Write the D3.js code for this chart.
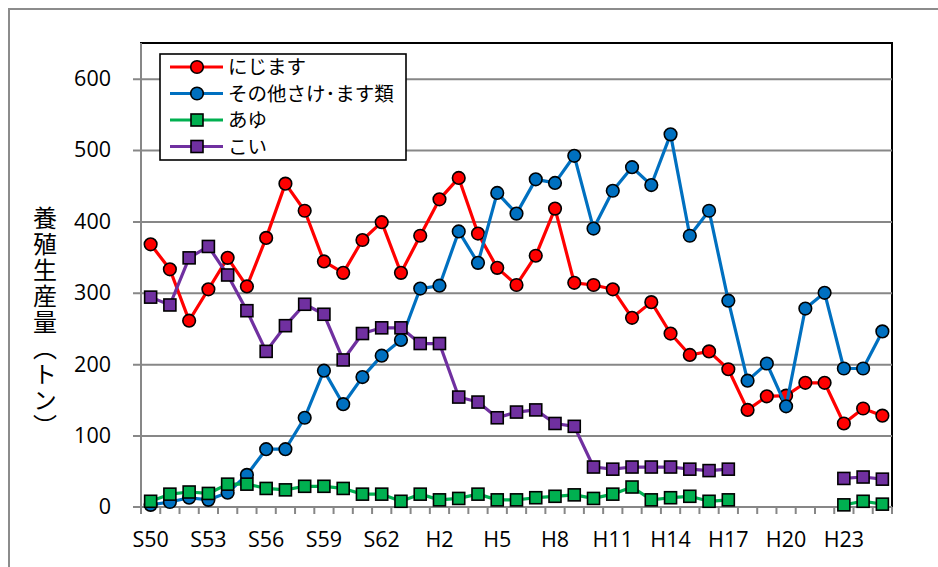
<!DOCTYPE html>
<html>
<head>
<meta charset="utf-8">
<script src="https://cdn.jsdelivr.net/npm/d3@7"></script>
<style>
  html, body { margin: 0; padding: 0; background: #fff; }
  svg { display: block; }
</style>
</head>
<body>
<div id="chart"></div>
<script>
// ─── DATA ─────────────────────────────────────────────────────────────────────

const years = [
  "S50","S51","S52","S53","S54","S55","S56","S57","S58","S59","S60","S61","S62","S63",
  "H1","H2","H3","H4","H5","H6","H7","H8","H9","H10","H11","H12","H13","H14","H15",
  "H16","H17","H18","H19","H20","H21","H22","H23","H24","H25"
];

const nijimasu = [
  368, 333, 261, 305, 349, 309, 377, 453, 415, 344, 328, 374, 399, 328,
  380, 431, 461, 383, 335, 311, 352, 418, 314, 311, 305, 265, 287, 243, 213,
  218, 193, 136, 155, 156, 174, 174, 117, 138, 128
];

const sakemasu = [
  3, 7, 13, 10, 20, 45, 81, 81, 125, 191, 144, 182, 212, 234,
  306, 310, 386, 342, 440, 411, 459, 454, 492, 390, 443, 476, 451, 522, 380,
  415, 289, 177, 201, 141, 278, 300, 194, 194, 246
];

const ayu = [
  8, 18, 21, 19, 32, 32, 26, 24, 29, 29, 26, 18, 18, 8,
  18, 10, 12, 18, 10, 10, 13, 15, 17, 12, 18, 28, 10, 13, 15,
  8, 10, null, null, null, null, null, 3, 8, 4
];

const koi = [
  294, 283, 349, 365, 325, 275, 218, 254, 284, 270, 206, 243, 251, 251,
  229, 229, 154, 147, 125, 133, 136, 117, 113, 56, 53, 56, 56, 56, 53,
  51, 53, null, null, null, null, null, 40, 42, 39
];

const seriesNames  = ["にじます", "その他さけ･ます類", "あゆ", "こい"];
const seriesColors = ["#FF0000", "#0070C0", "#00B050", "#7030A0"];
const seriesShapes = ["circle", "circle", "square", "square"];
const seriesValues = [nijimasu, sakemasu, ayu, koi];

const yTicks = [0, 100, 200, 300, 400, 500, 600];
const yTitle = "養殖生産量（トン）";

// ─── LAYOUT ───────────────────────────────────────────────────────────────────

const W = 938, H = 567;
const plot = { left: 141, right: 892, top: 43, bottom: 507 };
const numFont = "'Open Sans', 'DejaVu Sans', sans-serif";
const jpFont  = "'Noto Sans CJK JP', sans-serif";

const svg = d3.select("#chart").append("svg")
  .attr("width", W).attr("height", H);

// outer chart frame (runs off the right / bottom of the picture)
svg.append("rect")
  .attr("x", 9).attr("y", 9)
  .attr("width", W + 20).attr("height", H + 20)
  .attr("fill", "#fff")
  .attr("stroke", "#8c8c8c")
  .attr("stroke-width", 2);

const x = d3.scaleBand()
  .domain(years.map((d, i) => i))
  .range([plot.left, plot.right])
  .padding(0);

const y = d3.scaleLinear()
  .domain([0, 650])
  .range([plot.bottom, plot.top]);

const cx = i => x(i) + x.bandwidth() / 2;

// plot area border
svg.append("rect")
  .attr("x", plot.left).attr("y", plot.top)
  .attr("width", plot.right - plot.left)
  .attr("height", plot.bottom - plot.top)
  .attr("fill", "none")
  .attr("stroke", "#000")
  .attr("stroke-width", 2);

// gridlines + left ticks
const yAxis = d3.axisLeft(y)
  .tickValues(yTicks)
  .tickSize(plot.right - plot.left + 8)
  .tickSizeOuter(0);

const gy = svg.append("g")
  .attr("transform", `translate(${plot.right},0)`)
  .call(yAxis);
gy.select(".domain").remove();
gy.selectAll(".tick line")
  .attr("stroke", "#878787")
  .attr("stroke-width", 2)
  .filter(d => d === 0).remove();
gy.selectAll(".tick text")
  .attr("x", -(plot.right - plot.left) - 30)
  .attr("font-family", numFont)
  .attr("font-size", 21.5)
  .attr("fill", "#000");

// bottom axis line and category-boundary ticks
const boundaries = d3.range(years.length + 1).map(i =>
  i < years.length ? x(i) : plot.right);

svg.append("g").selectAll("line")
  .data(boundaries)
  .enter().append("line")
  .attr("x1", d => d).attr("x2", d => d)
  .attr("y1", plot.bottom).attr("y2", plot.bottom + 7)
  .attr("stroke", "#878787")
  .attr("stroke-width", 2);

svg.append("line")
  .attr("x1", plot.left - 8).attr("x2", plot.right)
  .attr("y1", plot.bottom).attr("y2", plot.bottom)
  .attr("stroke", "#878787").attr("stroke-width", 2);

svg.append("line")
  .attr("x1", plot.left).attr("x2", plot.left)
  .attr("y1", plot.top).attr("y2", plot.bottom + 7)
  .attr("stroke", "#878787").attr("stroke-width", 2);

svg.append("g").selectAll("text")
  .data(years.map((d, i) => ({ d, i })).filter(o => o.i % 3 === 0))
  .enter().append("text")
  .attr("x", o => cx(o.i))
  .attr("y", 547)
  .attr("text-anchor", "middle")
  .attr("font-family", numFont)
  .attr("font-size", 21.5)
  .text(o => o.d);

// y title, vertical text
svg.append("text")
  .attr("x", 45).attr("y", 206)
  .attr("font-family", jpFont)
  .attr("font-size", 24)
  .style("writing-mode", "vertical-rl")
  .style("letter-spacing", "2px")
  .text(yTitle);

// ─── SERIES ───────────────────────────────────────────────────────────────────

const line = d3.line()
  .defined(d => d.v !== null)
  .x(d => cx(d.i))
  .y(d => y(d.v));

function drawMarker(sel, shape, color, size) {
  if (shape === "circle") {
    sel.append("circle").attr("r", size / 2);
  } else {
    sel.append("rect")
      .attr("x", -size / 2).attr("y", -size / 2)
      .attr("width", size).attr("height", size);
  }
  sel.selectAll("circle, rect")
    .attr("fill", color)
    .attr("stroke", "#000")
    .attr("stroke-width", 1.6);
}

seriesValues.forEach((vals, s) => {
  const pts = vals.map((v, i) => ({ i, v }));
  const g = svg.append("g");

  g.append("path")
    .datum(pts)
    .attr("d", line)
    .attr("fill", "none")
    .attr("stroke", seriesColors[s])
    .attr("stroke-width", 3.2)
    .attr("stroke-linejoin", "round");

  g.selectAll("g.mk")
    .data(pts.filter(p => p.v !== null))
    .enter().append("g")
    .attr("class", "mk")
    .attr("transform", p => `translate(${cx(p.i)},${y(p.v)})`)
    .each(function() {
      drawMarker(d3.select(this), seriesShapes[s], seriesColors[s],
        seriesShapes[s] === "circle" ? 12.6 : 12);
    });
});

// ─── LEGEND ───────────────────────────────────────────────────────────────────

const legend = svg.append("g");
legend.append("rect")
  .attr("x", 160).attr("y", 54)
  .attr("width", 246).attr("height", 106)
  .attr("fill", "#fff")
  .attr("stroke", "#000")
  .attr("stroke-width", 1.6);

seriesNames.forEach((name, s) => {
  const ly = 67 + s * 26.5;
  const row = legend.append("g");
  row.append("line")
    .attr("x1", 170).attr("x2", 223)
    .attr("y1", ly).attr("y2", ly)
    .attr("stroke", seriesColors[s])
    .attr("stroke-width", 3.2);
  const mk = row.append("g").attr("transform", `translate(197,${ly})`);
  drawMarker(mk, seriesShapes[s], seriesColors[s],
    seriesShapes[s] === "circle" ? 12.6 : 12);
  row.append("text")
    .attr("x", 228).attr("y", ly)
    .attr("dy", "0.36em")
    .attr("font-family", jpFont)
    .attr("font-size", 19.5)
    .text(name);
});
</script>
</body>
</html>
